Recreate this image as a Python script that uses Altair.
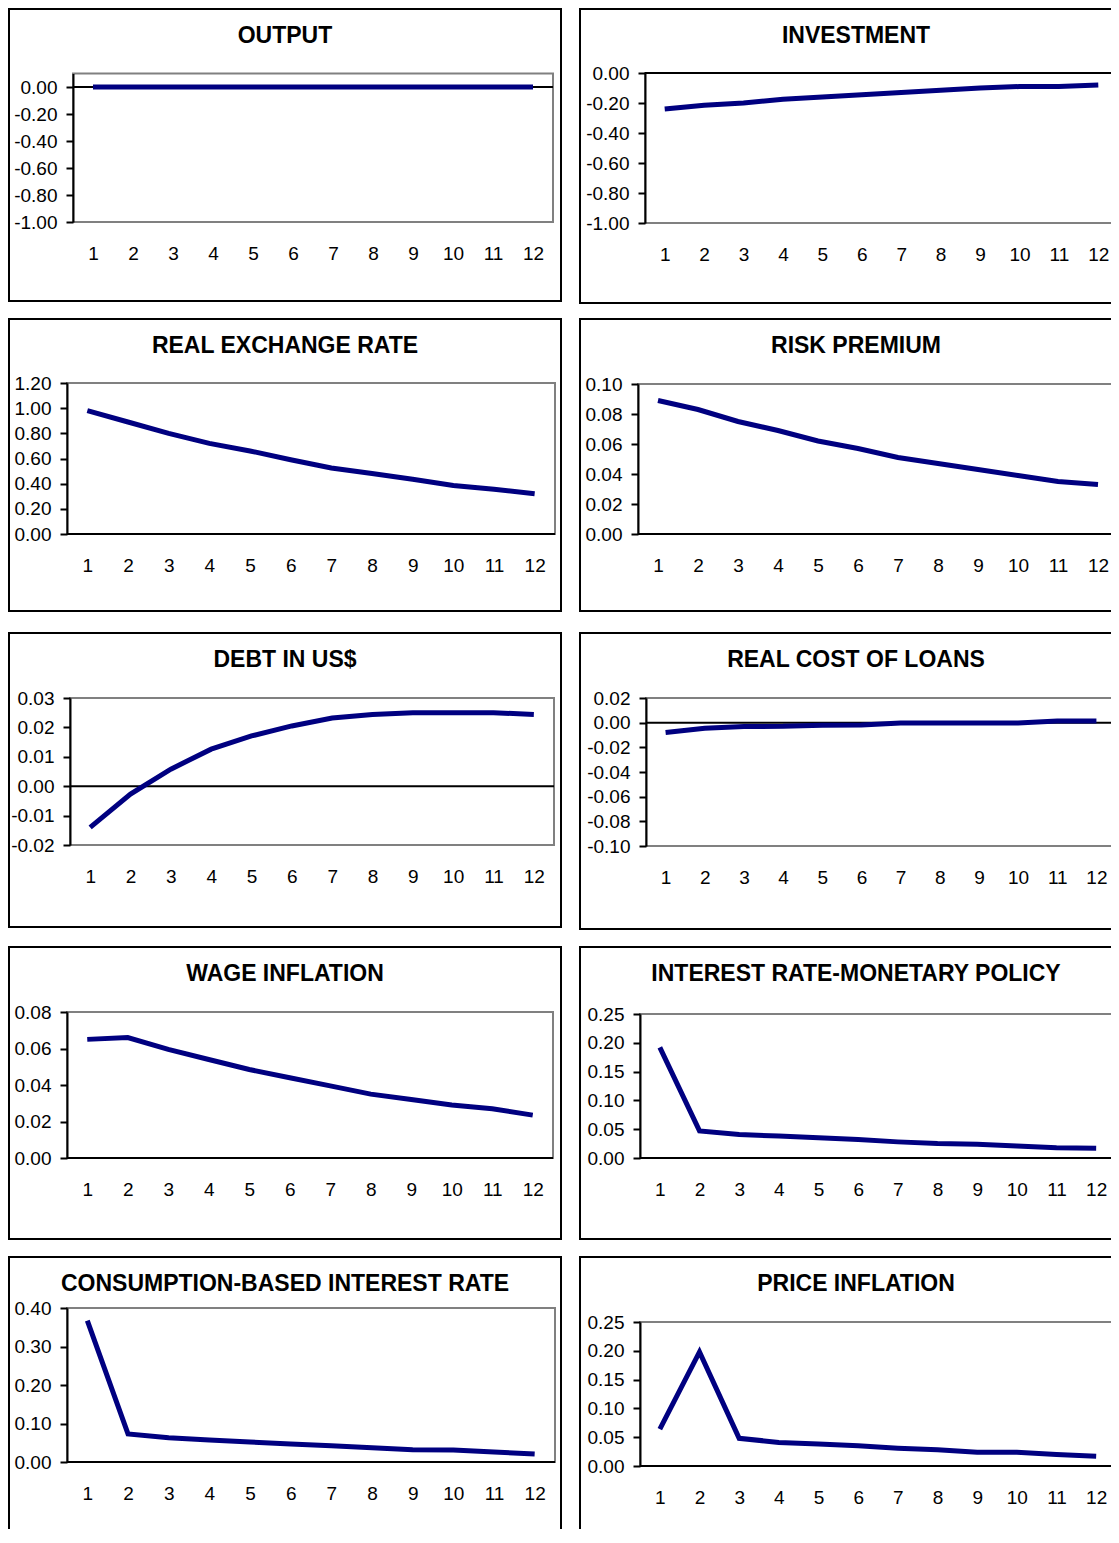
import altair as alt
import pandas as pd

FONT = "Liberation Sans"
NAVY = "#000080"

periods = [1, 2, 3, 4, 5, 6, 7, 8, 9, 10, 11, 12]

titles = [
    "OUTPUT", "INVESTMENT",
    "REAL EXCHANGE RATE", "RISK PREMIUM",
    "DEBT IN US$", "REAL COST OF LOANS",
    "WAGE INFLATION", "INTEREST RATE-MONETARY POLICY",
    "CONSUMPTION-BASED INTEREST RATE", "PRICE INFLATION",
]

output = [0.0, 0.0, 0.0, 0.0, 0.0, 0.0, 0.0, 0.0, 0.0, 0.0, 0.0, 0.0]
investment = [-0.24, -0.215, -0.20, -0.175, -0.16, -0.145, -0.13, -0.115, -0.10, -0.09, -0.09, -0.08]
real_exchange_rate = [0.98, 0.89, 0.80, 0.72, 0.66, 0.59, 0.525, 0.48, 0.435, 0.385, 0.355, 0.32]
risk_premium = [0.089, 0.083, 0.075, 0.069, 0.062, 0.057, 0.051, 0.047, 0.043, 0.039, 0.035, 0.033]
debt_usd = [-0.014, -0.0027, 0.0058, 0.0126, 0.0171, 0.0205, 0.0232, 0.0244, 0.025, 0.025, 0.025, 0.0244]
real_cost_loans = [-0.008, -0.0045, -0.0032, -0.003, -0.002, -0.0018, -0.0003, -0.0003, -0.0003, -0.0003, 0.0013, 0.0013]
wage_inflation = [0.065, 0.066, 0.0595, 0.054, 0.0485, 0.044, 0.0395, 0.035, 0.032, 0.029, 0.027, 0.0235]
interest_rate_mp = [0.192, 0.047, 0.041, 0.038, 0.035, 0.032, 0.028, 0.025, 0.024, 0.021, 0.018, 0.017]
consumption_rate = [0.367, 0.073, 0.063, 0.057, 0.052, 0.047, 0.042, 0.037, 0.032, 0.031, 0.026, 0.021]
price_inflation = [0.064, 0.198, 0.048, 0.041, 0.038, 0.035, 0.031, 0.028, 0.024, 0.024, 0.020, 0.017]

series = [output, investment, real_exchange_rate, risk_premium, debt_usd,
          real_cost_loans, wage_inflation, interest_rate_mp, consumption_rate, price_inflation]

# y-axis domains and tick labels (as printed on each panel)
y_domains = [
    [-1.0, 0.1], [-1.0, 0.0],
    [0.0, 1.2], [0.0, 0.10],
    [-0.02, 0.03], [-0.10, 0.02],
    [0.0, 0.08], [0.0, 0.25],
    [0.0, 0.40], [0.0, 0.25],
]
y_ticks = [
    [-1.0, -0.8, -0.6, -0.4, -0.2, 0.0],
    [-1.0, -0.8, -0.6, -0.4, -0.2, 0.0],
    [0.0, 0.2, 0.4, 0.6, 0.8, 1.0, 1.2],
    [0.0, 0.02, 0.04, 0.06, 0.08, 0.10],
    [-0.02, -0.01, 0.0, 0.01, 0.02, 0.03],
    [-0.10, -0.08, -0.06, -0.04, -0.02, 0.0, 0.02],
    [0.0, 0.02, 0.04, 0.06, 0.08],
    [0.0, 0.05, 0.10, 0.15, 0.20, 0.25],
    [0.0, 0.10, 0.20, 0.30, 0.40],
    [0.0, 0.05, 0.10, 0.15, 0.20, 0.25],
]

# layout: panel box size and plot rectangle inside the panel (left, right, top, bottom)
panel_w = 552
panel_h = [292, 294, 292, 292, 294, 296, 292, 292, 292, 292]
plot_geo = [
    (64, 544, 64.5, 213), (65, 538, 64, 214),
    (58, 546, 64, 215), (58, 538, 65, 215),
    (61, 545, 65, 212), (66, 536, 65, 213),
    (58, 544, 65, 211), (60, 536, 67, 211),
    (58, 546, 51, 205), (60, 536, 65, 209),
]

LABEL_EXPR = "replace(format(datum.value, '.2f'), '\u2212', '-')"


def panel(i):
    values = series[i]
    lo, hi = y_domains[i]
    L, R, T, B = plot_geo[i]
    h = panel_h[i]

    xs = alt.Scale(domain=[0.5, 12.5], range=[L, R], nice=False, zero=False)
    ys = alt.Scale(domain=[lo, hi], range=[B, T], nice=False, zero=False)

    x_axis = alt.Axis(
        values=periods, format="d", orient="bottom", offset=-(h - B),
        domain=False, ticks=False, tickSize=0, grid=False, title=None,
        labelPadding=31, labelBaseline="middle", labelFontSize=19,
        labelColor="black", labelFont=FONT, labelFlush=False, labelOverlap=False,
    )
    y_axis = alt.Axis(
        values=y_ticks[i], labelExpr=LABEL_EXPR, orient="left", offset=-L,
        domainColor="black", domainWidth=2, tickColor="black", tickWidth=2,
        tickSize=7, labelPadding=9, labelFontSize=19, labelColor="black",
        labelFont=FONT, grid=False, title=None, labelFlush=False,
        labelOverlap=False, zindex=1,
    )

    df = pd.DataFrame({"period": periods, "value": values})
    frame_df = pd.DataFrame({"x0": [0.5], "x1": [12.5], "y0": [lo], "y1": [hi]})
    zero_df = pd.DataFrame({"x0": [0.5], "x1": [12.5], "y": [0.0]})
    title_df = pd.DataFrame({"title": [titles[i]]})

    frame = alt.Chart(frame_df).mark_rect(
        fillOpacity=0, stroke="#808080", strokeWidth=2
    ).encode(
        x=alt.X("x0:Q", scale=xs, axis=x_axis),
        x2="x1:Q",
        y=alt.Y("y0:Q", scale=ys, axis=y_axis),
        y2="y1:Q",
    )

    zero = alt.Chart(zero_df).mark_rule(color="black", strokeWidth=2).encode(
        x=alt.X("x0:Q", scale=xs, axis=x_axis),
        x2="x1:Q",
        y=alt.Y("y:Q", scale=ys, axis=y_axis),
    )

    line = alt.Chart(df).mark_line(color=NAVY, strokeWidth=5).encode(
        x=alt.X("period:Q", scale=xs, axis=x_axis),
        y=alt.Y("value:Q", scale=ys, axis=y_axis),
    )

    head = alt.Chart(title_df).mark_text(
        font=FONT, fontSize=23, fontWeight="bold", color="black",
        align="center", baseline="middle",
    ).encode(
        x=alt.value(panel_w / 2), y=alt.value(27), text="title:N",
    )

    return alt.layer(frame, zero, line, head).properties(width=panel_w, height=h)


panels = [panel(i) for i in range(10)]
rows = [alt.hconcat(panels[2 * r], panels[2 * r + 1], spacing=17) for r in range(5)]

grid = alt.vconcat(rows[0], rows[1], spacing=14)
grid = alt.vconcat(grid, rows[2], spacing=20)
grid = alt.vconcat(grid, rows[3], spacing=16)
grid = alt.vconcat(grid, rows[4], spacing=16)

# the right column and the bottom row run off the page, as in the original
chart = grid.properties(
    padding={"left": 0, "top": 0, "right": -22, "bottom": -21}
).configure(font=FONT).configure_view(
    stroke="black", strokeWidth=2, fill="white"
)

chart.save("out.html", embed_options={"renderer": "svg", "actions": False})
